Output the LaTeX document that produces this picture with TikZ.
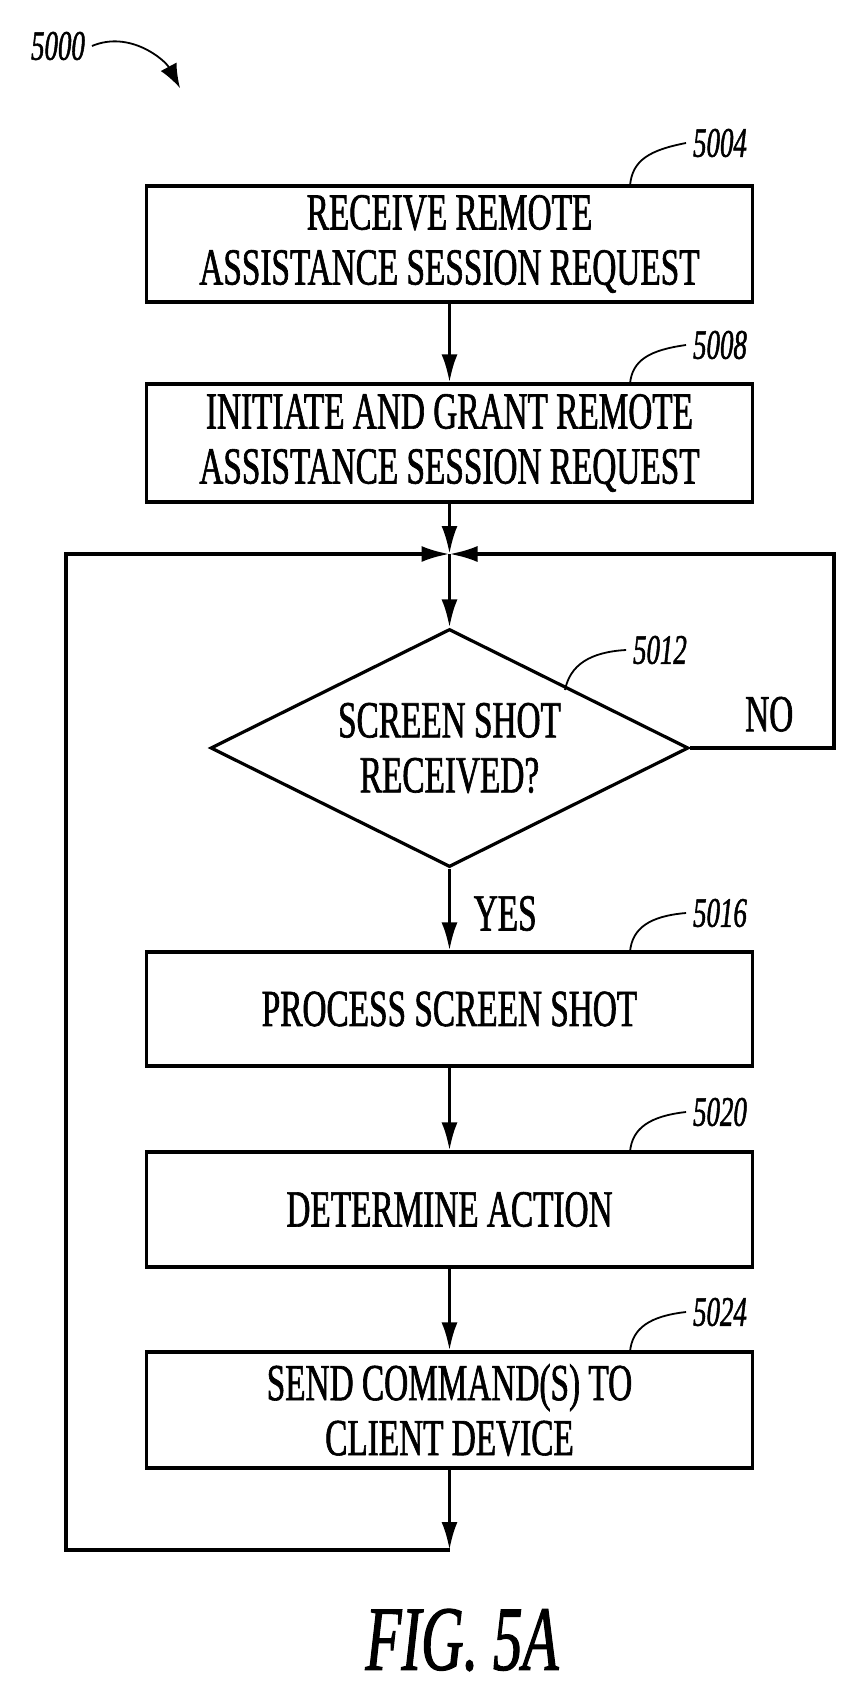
\documentclass[tikz,border=0pt]{standalone}
\usepackage{fontspec}
\setmainfont{Liberation Serif}[FakeStretch=0.64,FakeBold=1.2]
\usetikzlibrary{shapes.geometric,arrows.meta}
\begin{document}
\begin{tikzpicture}[x=0.5pt,y=-0.5pt,
  every node/.style={font=\fontsize{26}{27.5}\selectfont,align=center},
  box/.style={draw,line width=1.6pt,minimum width=303pt,inner sep=0pt},
  ln/.style={line width=1.6pt},
  arr/.style={ln,-{Latex[length=14pt,width=8pt]}},
  lead/.style={line width=0.9pt},
  num/.style={font=\itshape\fontsize{21}{22}\selectfont}]
\useasboundingbox (0,0) rectangle (846,1696);
\node[box,minimum height=58pt] (b1) at (449.5,244) {RECEIVE REMOTE\\ASSISTANCE SESSION REQUEST};
\node[box,minimum height=59pt] (b2) at (449.5,443) {INITIATE AND GRANT REMOTE\\ASSISTANCE SESSION REQUEST};
\node[draw,diamond,ln,minimum width=239pt,minimum height=119pt,inner sep=0pt,aspect=2] (d) at (449.5,748) {SCREEN SHOT\\RECEIVED?};
\node[box,minimum height=57pt] (b3) at (449.5,1009) {PROCESS SCREEN SHOT};
\node[box,minimum height=57.5pt] (b4) at (449.5,1209.5) {DETERMINE ACTION};
\node[box,minimum height=58pt] (b5) at (449.5,1410) {SEND COMMAND(S) TO\\CLIENT DEVICE};
\coordinate (m) at (449.5,554);
\coordinate (bl) at (66,1550);
\coordinate (end) at (449.5,1550);
\draw[arr] (b1) -- (b2);
\draw[arr] (b2) -- (m);
\draw[arr] (m) -- (d);
\draw[arr] (d) -- node[right,xshift=8pt,yshift=-2pt,anchor=west] {YES} (b3);
\draw[arr] (b3) -- (b4);
\draw[arr] (b4) -- (b5);
\draw[arr] (b5) -- (end);
\draw[arr] (end) -- (bl) |- (m);
\draw[arr] (d.east) -- (834,748) node[pos=0.55,above=4pt] {NO} |- (m);
\node[num] (n1) at (720,143) {5004};
\node[num] (n2) at (720,345) {5008};
\node[num] (n3) at (660,650) {5012};
\node[num] (n4) at (720,913) {5016};
\node[num] (n5) at (720,1112) {5020};
\node[num] (n6) at (720,1312) {5024};
\draw[lead] (630,186) .. controls (632,160) and (650,150) .. (n1.west);
\draw[lead] (630,384) .. controls (632,360) and (650,350) .. (n2.west);
\draw[lead] (565,690) .. controls (570,665) and (590,652) .. (n3.west);
\draw[lead] (630,952) .. controls (632,928) and (650,916) .. (n4.west);
\draw[lead] (630,1152) .. controls (632,1128) and (650,1116) .. (n5.west);
\draw[lead] (630,1352) .. controls (632,1328) and (650,1316) .. (n6.west);
\node[num] (n0) at (58,46) {5000};
\coordinate (a0) at (180,88);
\draw[lead,-{Latex[length=12pt,width=9pt]}] (n0.east) .. controls (130,30) and (165,60) .. (a0);
\node (fig) at (462,1640) {\itshape\fontsize{46}{48}\selectfont FIG. 5A};
\end{tikzpicture}
\end{document}
